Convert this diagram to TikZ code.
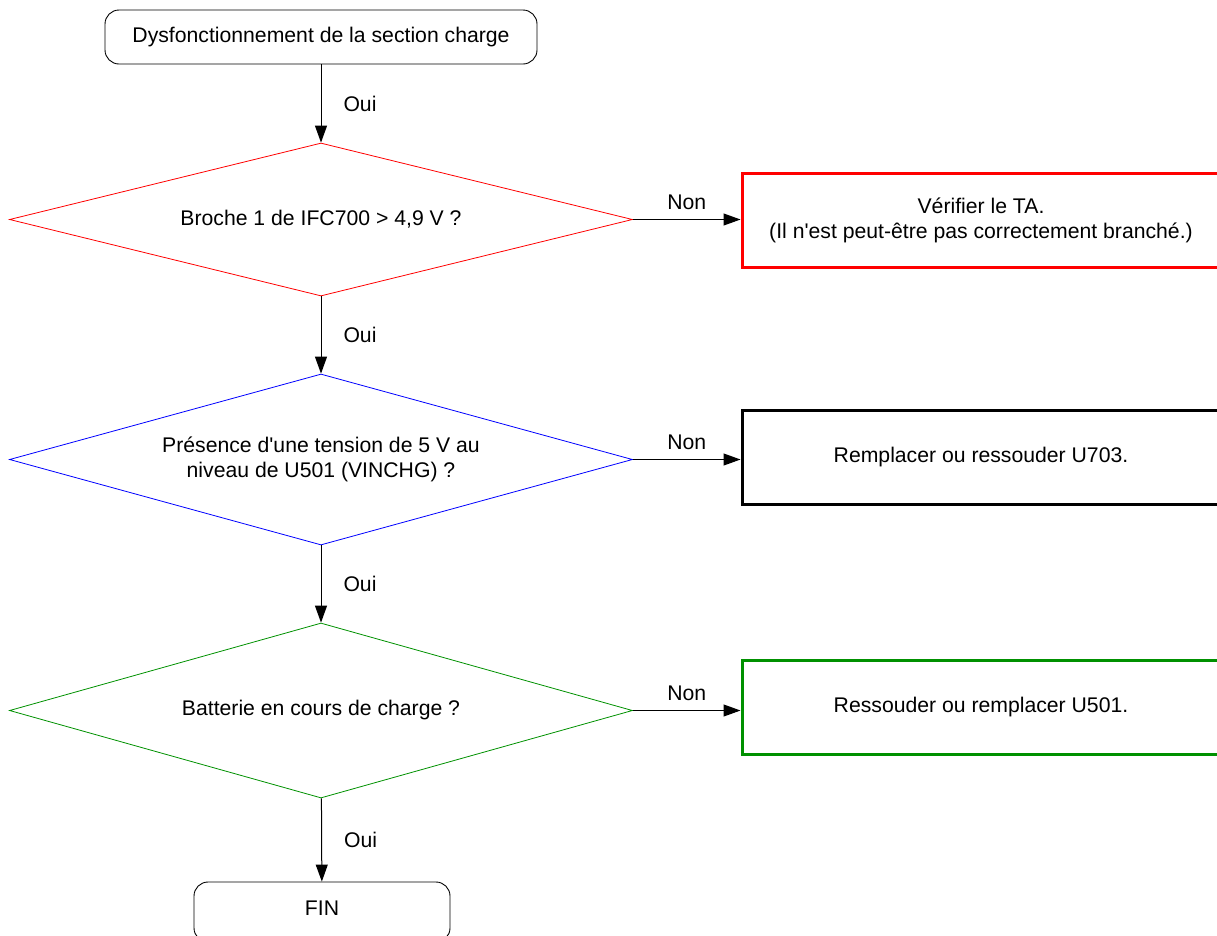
\documentclass[tikz,border=0pt]{standalone}
\usepackage{fontspec}
\setmainfont{Liberation Sans}
\usetikzlibrary{shapes.geometric,arrows.meta}
\definecolor{chkred}{RGB}{255,0,0}
\definecolor{chkblue}{RGB}{0,0,255}
\definecolor{chkgreen}{RGB}{0,145,0}
\begin{document}
\begin{tikzpicture}[x=1pt,y=-1pt,
  font=\fontsize{21.2}{24.5}\selectfont,
  terminal/.style={draw, rounded corners=14pt, line width=0.9pt, inner sep=0pt},
  decision/.style={diamond, draw, line width=0.8pt, inner sep=0pt, align=center,
                   shape aspect=4, minimum width=623pt},
  action/.style={draw, line width=3pt, inner sep=0pt, align=center,
                 minimum width=478pt, minimum height=94pt},
  flow/.style={draw, line width=1pt, -{Triangle[length=17pt,width=12pt]}},
  yeslbl/.style={midway, anchor=west, inner sep=0pt, xshift=22pt},
  nolbl/.style={midway, anchor=base, inner sep=0pt, yshift=10pt}]
\clip (0,0) rectangle (1217,935);

% main column
\node[terminal, minimum width=432pt, minimum height=54pt] (start) at (321,37)
  {Dysfonctionnement de la section charge};
\node[decision, draw=chkred, minimum height=153pt] (d1) at (321,219.5)
  {Broche 1 de IFC700 > 4,9 V ?};
\node[decision, draw=chkblue, minimum height=171pt] (d2) at (321,459.5)
  {Présence d\textquotesingle une tension de 5 V au\\niveau de U501 (VINCHG) ?};
\node[decision, draw=chkgreen, minimum height=175pt] (d3) at (321,710.5)
  {Batterie en cours de charge ?};
% end terminal runs past the lower edge
\node[terminal, minimum width=256pt, minimum height=60pt,
      text height=15pt, text depth=8pt] (fin) at (322,912)
  {FIN};

% corrective actions
\node[action, draw=chkred] (a1) at (981,220.5)
  {Vérifier le TA.\\(Il n\textquotesingle est peut-être pas correctement branché.)};
\node[action, draw=black] (a2) at (981,457)
  {Remplacer ou ressouder U703.};
\node[action, draw=chkgreen] (a3) at (981,707.5)
  {Ressouder ou remplacer U501.};

% connectors
\draw[flow] (start) -- (d1) node[yeslbl] {Oui};
\draw[flow] (d1) -- (d2) node[yeslbl] {Oui};
\draw[flow] (d2) -- (d3) node[yeslbl] {Oui};
\draw[flow] (d3) -- (fin) node[yeslbl] {Oui};
\draw[flow] (d1.east) -- (a1.west |- d1.east) node[nolbl] {Non};
\draw[flow] (d2.east) -- (a2.west |- d2.east) node[nolbl] {Non};
\draw[flow] (d3.east) -- (a3.west |- d3.east) node[nolbl] {Non};
\end{tikzpicture}
\end{document}
